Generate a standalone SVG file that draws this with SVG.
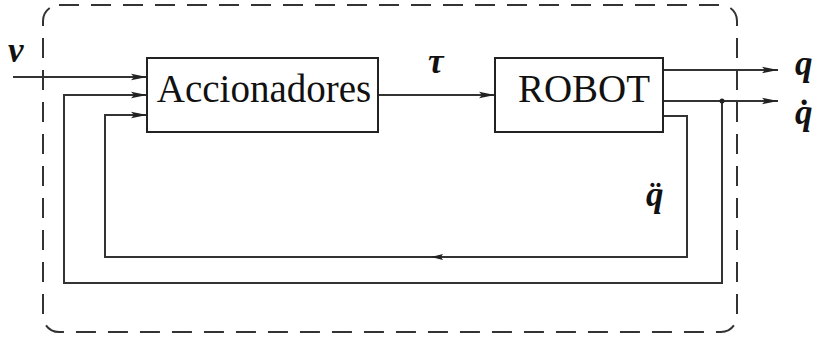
<svg xmlns="http://www.w3.org/2000/svg" width="815" height="341" viewBox="0 0 815 341">
  <style>
    .box { fill: #fff; stroke: #222; stroke-width: 2; }
    .wire { fill: none; stroke: #333; stroke-width: 2; }
    .arr { marker-end: url(#ah); }
    .frame { fill: none; stroke: #333; stroke-width: 2; stroke-dasharray: 20 12; }
    .lbl { font-family: "Liberation Serif", serif; font-size: 39px; fill: #111; }
    .math { font-family: "Liberation Serif", serif; font-weight: bold; font-style: italic; font-size: 35px; fill: #111; }
  </style>
  <defs>
    <marker id="ah" viewBox="0 0 16 8" refX="16" refY="4" markerWidth="16" markerHeight="8" markerUnits="userSpaceOnUse" orient="auto">
      <path d="M0,0.8 L16,4 L0,7.2 L3,4 Z" fill="#222"/>
    </marker>
    <marker id="ahl" viewBox="0 0 12 8" refX="6" refY="4" markerWidth="12" markerHeight="8" markerUnits="userSpaceOnUse" orient="auto">
      <path d="M0,1 L12,4 L0,7 L2,4 Z" fill="#222"/>
    </marker>
  </defs>

  <!-- dashed subsystem boundary -->
  <rect class="frame" x="43" y="5" width="694" height="327" rx="16" ry="16"/>

  <g id="connectors">
    <!-- external input v -->
    <line class="wire arr" x1="13" y1="77" x2="147" y2="77"/>
    <!-- velocity feedback -->
    <path class="wire arr" d="M722,101 V283 H64 V95 H147"/>
    <!-- acceleration feedback -->
    <path class="wire arr" d="M663,116 H687 V257 H105 V115 H147"/>
    <line class="wire" x1="445" y1="257" x2="437" y2="257" marker-end="url(#ahl)"/>
    <!-- torque -->
    <line class="wire arr" x1="378" y1="95" x2="495" y2="95"/>
    <!-- outputs -->
    <line class="wire arr" x1="663" y1="70" x2="778" y2="70"/>
    <line class="wire arr" x1="663" y1="101" x2="778" y2="101"/>
    <circle cx="722" cy="101" r="2.5" fill="#222"/>
  </g>

  <g id="accionadores">
    <rect class="box" x="147" y="58" width="231" height="74"/>
    <text class="lbl" x="264" y="102" text-anchor="middle">Accionadores</text>
  </g>

  <g id="robot">
    <rect class="box" x="495" y="58" width="168" height="74"/>
    <text class="lbl" x="584" y="102" text-anchor="middle">ROBOT</text>
  </g>

  <g id="labels">
    <text class="math" x="8" y="62">v</text>
    <text class="math" x="428" y="73">τ</text>
    <text class="math" x="795" y="75">q</text>
    <text class="math" x="795" y="124">q̇</text>
    <text class="math" x="646" y="206">q̈</text>
  </g>
</svg>
